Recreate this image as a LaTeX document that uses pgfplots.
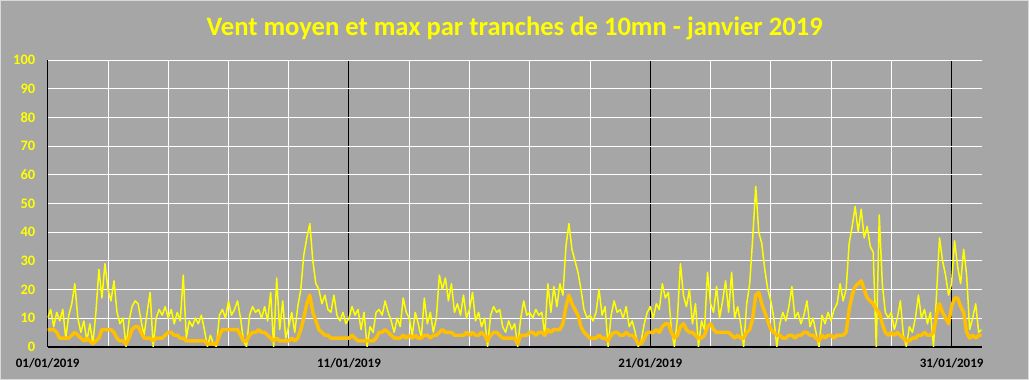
\documentclass[border=0pt]{standalone}
\usepackage{pgfplots}
\pgfplotsset{compat=1.18}
\usepackage{fontspec}
\setmainfont{Carlito}
\definecolor{bg}{RGB}{166,166,166}
\definecolor{brd}{RGB}{217,217,217}
\definecolor{ylw}{RGB}{255,255,0}
\definecolor{org}{RGB}{255,192,0}
\newcommand\yl[1]{{\fontsize{14.5}{17}\selectfont\bfseries\color{ylw}#1}}
\begin{document}
\begin{tikzpicture}
\fill[bg] (-47.7bp,-33.3bp) rectangle (981.3bp,346.7bp);
\draw[brd, line width=1.5bp] (-46.95bp,-32.55bp) rectangle (980.55bp,345.95bp);
\begin{axis}[
 at={(0,0)}, anchor=south west,
 scale only axis, width=934bp, height=286.4bp,
 xmin=0, xmax=31, ymin=0, ymax=100,
 axis x line=bottom, axis y line=left,
 x axis line style={black, line width=1.6bp, -},
 y axis line style={black, line width=1bp, -},
 xtick={0,10,20,30},
 xticklabels={01/01/2019,11/01/2019,21/01/2019,31/01/2019},
 minor xtick={2,4,6,8,12,14,16,18,22,24,26,28},
 ytick={0,10,20,30,40,50,60,70,80,90,100},
 yticklabels={\yl{0},\yl{10},\yl{20},\yl{30},\yl{40},\yl{50},\yl{60},\yl{70},\yl{80},\yl{90},\yl{100}},
 xmajorgrids, xminorgrids, ymajorgrids,
 major x grid style={black, line width=1bp},
 minor x grid style={white, line width=0.9bp},
 major y grid style={white, line width=0.9bp},
 major tick length=0pt, minor tick length=0pt,
 tick style={draw=none},
 /pgf/number format/assume math mode=true,
 yticklabel style={text=ylw, xshift=-9bp},
 xticklabel style={text=black, font=\fontsize{13}{16}\selectfont\bfseries, yshift=-8bp},
 title={Vent moyen et max par tranches de 10mn - janvier 2019},
 title style={text=ylw, font=\bfseries\fontsize{26.7}{30}\selectfont, at={(0.5,1)}, anchor=center, yshift=26bp},
]
\addplot[ylw, line width=1.5pt, line join=round] table[x expr=\coordindex/10, y=v, row sep=\\]{
v\\
10\\ 13\\ 7\\ 12\\ 9\\ 13\\ 3\\ 11\\ 15\\ 22\\
10\\ 5\\ 9\\ 2\\ 8\\ 1\\ 12\\ 27\\ 17\\ 29\\
20\\ 16\\ 23\\ 12\\ 8\\ 10\\ 0\\ 9\\ 14\\ 16\\
15\\ 9\\ 4\\ 12\\ 19\\ 0\\ 10\\ 13\\ 11\\ 14\\
10\\ 13\\ 8\\ 12\\ 9\\ 25\\ 3\\ 9\\ 7\\ 10\\
8\\ 11\\ 6\\ 0\\ 4\\ 1\\ 0\\ 11\\ 13\\ 10\\
16\\ 11\\ 13\\ 16\\ 10\\ 2\\ 0\\ 11\\ 14\\ 12\\
13\\ 10\\ 14\\ 9\\ 19\\ 0\\ 24\\ 6\\ 16\\ 3\\
7\\ 12\\ 5\\ 14\\ 20\\ 32\\ 38\\ 43\\ 30\\ 22\\
20\\ 15\\ 18\\ 13\\ 12\\ 18\\ 11\\ 9\\ 12\\ 8\\
10\\ 14\\ 11\\ 13\\ 6\\ 12\\ 0\\ 7\\ 5\\ 12\\
13\\ 11\\ 16\\ 12\\ 9\\ 5\\ 10\\ 7\\ 17\\ 12\\
10\\ 4\\ 12\\ 8\\ 3\\ 17\\ 8\\ 12\\ 5\\ 10\\
25\\ 20\\ 24\\ 16\\ 22\\ 12\\ 15\\ 11\\ 18\\ 10\\
13\\ 19\\ 9\\ 12\\ 7\\ 10\\ 0\\ 11\\ 14\\ 12\\
13\\ 7\\ 5\\ 9\\ 6\\ 8\\ 0\\ 10\\ 16\\ 11\\
12\\ 10\\ 13\\ 11\\ 12\\ 4\\ 22\\ 12\\ 21\\ 14\\
22\\ 18\\ 35\\ 43\\ 34\\ 30\\ 26\\ 20\\ 13\\ 10\\
11\\ 9\\ 12\\ 20\\ 11\\ 14\\ 0\\ 11\\ 16\\ 12\\
13\\ 10\\ 14\\ 7\\ 9\\ 5\\ 0\\ 2\\ 8\\ 12\\
14\\ 10\\ 15\\ 13\\ 22\\ 17\\ 19\\ 6\\ 0\\ 10\\
29\\ 18\\ 14\\ 20\\ 8\\ 15\\ 0\\ 9\\ 6\\ 26\\
15\\ 12\\ 21\\ 10\\ 16\\ 23\\ 12\\ 26\\ 10\\ 14\\
8\\ 0\\ 15\\ 22\\ 38\\ 56\\ 40\\ 36\\ 27\\ 20\\
16\\ 10\\ 0\\ 8\\ 12\\ 9\\ 14\\ 21\\ 10\\ 12\\
8\\ 11\\ 16\\ 7\\ 10\\ 5\\ 0\\ 11\\ 8\\ 12\\
9\\ 13\\ 15\\ 22\\ 16\\ 20\\ 36\\ 42\\ 49\\ 40\\
48\\ 38\\ 42\\ 35\\ 33\\ 0\\ 46\\ 22\\ 12\\ 10\\
12\\ 6\\ 10\\ 16\\ 4\\ 0\\ 7\\ 5\\ 10\\ 18\\
10\\ 13\\ 8\\ 12\\ 0\\ 18\\ 38\\ 30\\ 25\\ 18\\
22\\ 37\\ 28\\ 22\\ 34\\ 25\\ 6\\ 10\\ 15\\ 5\\
6\\
};
\addplot[org, line width=3.5pt, line join=round] table[x expr=\coordindex/10, y=v, row sep=\\]{
v\\
6\\ 6\\ 6\\ 5\\ 3\\ 3\\ 3\\ 3\\ 4\\ 5\\
4\\ 3\\ 2\\ 3\\ 2\\ 1\\ 2\\ 3\\ 6\\ 6\\
6\\ 6\\ 5\\ 3\\ 2\\ 2\\ 1\\ 3\\ 6\\ 7\\
7\\ 5\\ 3\\ 3\\ 3\\ 2\\ 3\\ 3\\ 3\\ 4\\
5\\ 5\\ 4\\ 4\\ 3\\ 3\\ 2\\ 2\\ 2\\ 2\\
2\\ 2\\ 2\\ 1\\ 1\\ 1\\ 1\\ 4\\ 6\\ 6\\
6\\ 6\\ 6\\ 6\\ 4\\ 2\\ 2\\ 4\\ 5\\ 5\\
6\\ 5\\ 5\\ 4\\ 3\\ 2\\ 3\\ 2\\ 2\\ 2\\
2\\ 3\\ 2\\ 3\\ 6\\ 10\\ 15\\ 18\\ 12\\ 9\\
6\\ 5\\ 4\\ 4\\ 3\\ 3\\ 3\\ 3\\ 3\\ 3\\
3\\ 4\\ 3\\ 2\\ 2\\ 2\\ 2\\ 2\\ 2\\ 3\\
5\\ 5\\ 6\\ 5\\ 4\\ 3\\ 3\\ 3\\ 4\\ 3\\
4\\ 3\\ 4\\ 3\\ 3\\ 4\\ 4\\ 3\\ 4\\ 4\\
5\\ 6\\ 5\\ 5\\ 5\\ 4\\ 4\\ 4\\ 4\\ 5\\
4\\ 5\\ 4\\ 4\\ 5\\ 4\\ 2\\ 4\\ 5\\ 5\\
4\\ 3\\ 3\\ 3\\ 3\\ 3\\ 1\\ 4\\ 4\\ 4\\
5\\ 5\\ 4\\ 5\\ 5\\ 4\\ 6\\ 5\\ 6\\ 6\\
6\\ 8\\ 14\\ 18\\ 15\\ 13\\ 11\\ 7\\ 5\\ 4\\
3\\ 3\\ 3\\ 4\\ 3\\ 3\\ 2\\ 4\\ 5\\ 5\\
4\\ 4\\ 5\\ 4\\ 4\\ 3\\ 1\\ 1\\ 3\\ 5\\
5\\ 5\\ 6\\ 5\\ 7\\ 8\\ 8\\ 5\\ 3\\ 4\\
7\\ 8\\ 6\\ 5\\ 5\\ 4\\ 3\\ 3\\ 4\\ 7\\
8\\ 6\\ 5\\ 5\\ 5\\ 5\\ 5\\ 4\\ 3\\ 4\\
3\\ 3\\ 5\\ 6\\ 10\\ 18\\ 19\\ 15\\ 12\\ 9\\
6\\ 5\\ 4\\ 4\\ 3\\ 3\\ 4\\ 4\\ 3\\ 4\\
4\\ 5\\ 5\\ 4\\ 4\\ 3\\ 2\\ 4\\ 3\\ 4\\
4\\ 3\\ 4\\ 4\\ 4\\ 5\\ 13\\ 18\\ 21\\ 22\\
23\\ 20\\ 17\\ 16\\ 15\\ 13\\ 12\\ 8\\ 5\\ 4\\
5\\ 4\\ 5\\ 4\\ 3\\ 2\\ 2\\ 3\\ 3\\ 4\\
4\\ 5\\ 4\\ 4\\ 5\\ 11\\ 15\\ 12\\ 10\\ 8\\
14\\ 17\\ 17\\ 14\\ 12\\ 5\\ 3\\ 4\\ 3\\ 4\\
4\\
};
\end{axis}
\pgfresetboundingbox
\useasboundingbox (-47.7bp,-33.3bp) rectangle (981.3bp,346.7bp);
\end{tikzpicture}
\end{document}
